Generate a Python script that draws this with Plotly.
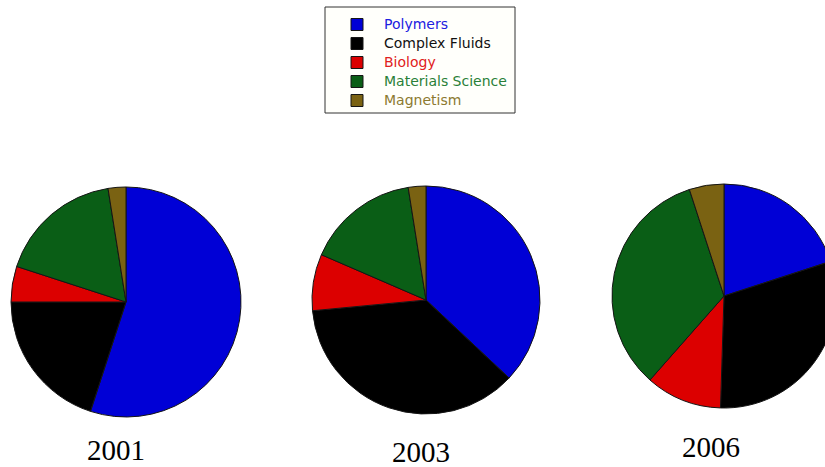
import plotly.graph_objects as go

# Research area shares per year (percent of total)
categories = ["Polymers", "Complex Fluids", "Biology", "Materials Science", "Magnetism"]
years = ["2001", "2003", "2006"]
share_2001 = [55, 20, 5, 17.5, 2.5]
share_2003 = [37, 36.5, 8, 16, 2.5]
share_2006 = [20, 30.5, 11, 33.5, 5]

slice_colors = ["#0000D6", "#000000", "#DC0000", "#0A5E16", "#7A6212"]
label_colors = ["#2020E0", "#111111", "#E02020", "#2A7F38", "#8C7A30"]

W, H = 840, 467

# label text carries its own colour so each legend entry matches its slice
labels = [f'<span style="color:{c};font-size:14px">{name}</span>'
          for name, c in zip(categories, label_colors)]


def px_domain(cx, cy, r):
    return dict(x=[(cx - r) / W, (cx + r) / W],
                y=[(H - cy - r) / H, (H - cy + r) / H])


pie_layout = [(126, 302, 115), (426, 300, 114), (724, 296, 112)]
series = [share_2001, share_2003, share_2006]

fig = go.Figure()
for vals, (cx, cy, r) in zip(series, pie_layout):
    fig.add_trace(go.Pie(
        labels=labels,
        values=vals,
        sort=False,
        direction="clockwise",
        rotation=0,
        textinfo="none",
        marker=dict(colors=slice_colors, line=dict(color="#151515", width=1)),
        domain=px_domain(cx, cy, r),
    ))

# year captions under each pie
year_pos = [(116, 450), (421, 452), (711, 447)]
for yr, (x, y) in zip(years, year_pos):
    fig.add_annotation(
        text=yr, x=x / W, y=(H - y) / H, xref="paper", yref="paper",
        xanchor="center", yanchor="middle", showarrow=False,
        font=dict(family="Liberation Serif, Times New Roman, serif", size=29, color="#000000"),
    )

# legend frame
fig.add_shape(type="rect", xref="paper", yref="paper",
              x0=325 / W, x1=515 / W, y0=(H - 113) / H, y1=(H - 7) / H,
              line=dict(color="#333333", width=1), fillcolor="#FFFFFB", layer="below")

fig.update_layout(
    width=W, height=H,
    margin=dict(l=0, r=0, t=0, b=0),
    paper_bgcolor="#FFFFFF",
    plot_bgcolor="#FFFFFF",
    showlegend=True,
    legend=dict(
        x=330 / W, y=(H - 10) / H, xanchor="left", yanchor="top",
        bgcolor="rgba(0,0,0,0)", borderwidth=0,
        font=dict(family="DejaVu Sans, Verdana, sans-serif", size=11.5, color="#111111"),
        itemwidth=44, traceorder="normal",
    ),
)

fig.write_html("out.html",
               post_script="document.documentElement.style.overflow='hidden';document.body.style.overflow='hidden';")
